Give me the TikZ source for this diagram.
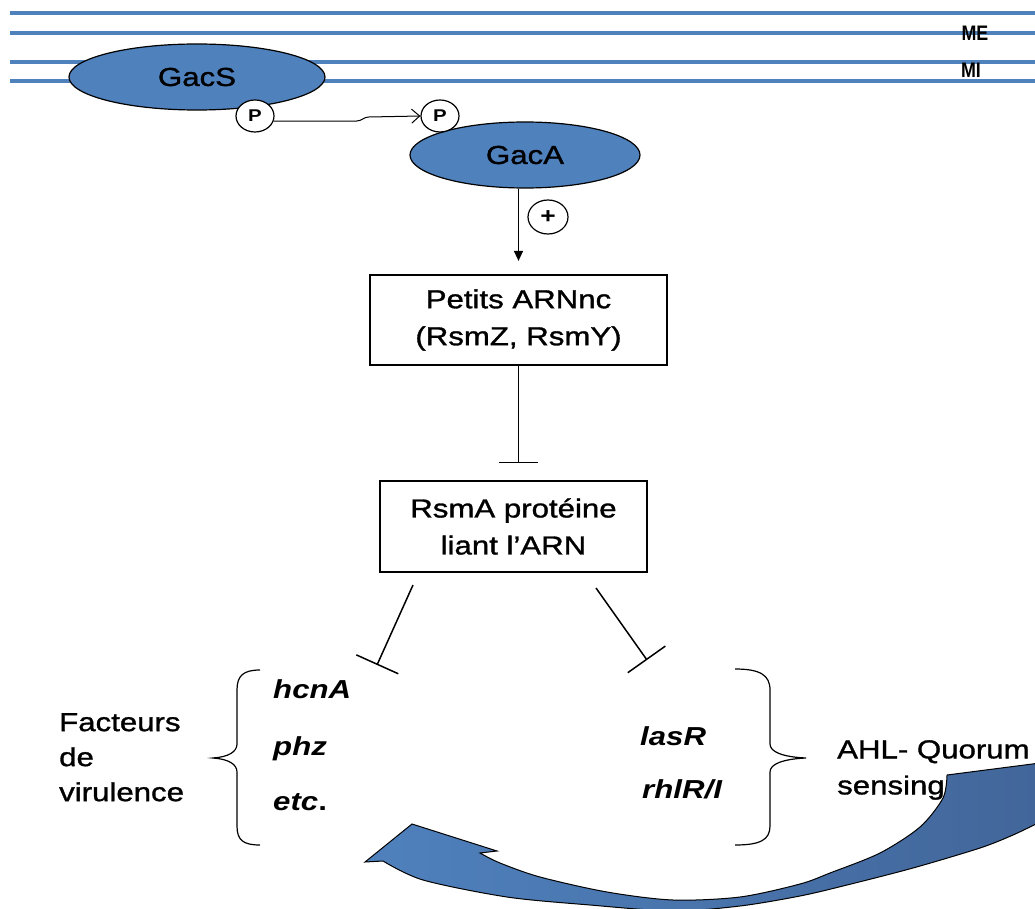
\documentclass[tikz,border=0pt]{standalone}
\usepackage{fontspec}
\setmainfont[FakeStretch=1.2,UprightFeatures={FakeBold=1.2}]{Liberation Sans}
\newfontfamily\condfont[FakeStretch=0.85]{Liberation Sans}
\usepackage{tikz}
\usetikzlibrary{arrows.meta,positioning,calc,shapes.geometric}
\definecolor{memblue}{HTML}{4F81BD}
\definecolor{darkblue}{HTML}{42669A}
\tikzset{prot/.style={ellipse, draw=black, line width=1.2pt, fill=memblue, inner sep=0pt, minimum height=66pt, font=\fontsize{26}{30}\selectfont},
phos/.style={ellipse, draw=black, line width=1.2pt, fill=white, inner sep=0pt, minimum width=38pt, minimum height=32pt, font=\bfseries\fontsize{17}{20}\selectfont},
rnabox/.style={rectangle, draw=black, line width=2.2pt, inner sep=0pt, align=center, font=\fontsize{26}{37}\selectfont},
txt/.style={inner sep=0pt, align=left, anchor=north west, font=\fontsize{26}{30}\selectfont},
gene/.style={inner sep=0pt, anchor=base west, font=\bfseries\itshape\fontsize{26}{30}\selectfont},
inhib/.style={line width=1.5pt, -{Bar[width=46pt]}}}

\begin{document}
\begin{tikzpicture}[x=1pt,y=-1pt]
	\useasboundingbox (0,0) rectangle (1035,909);
	\clip (0,0) rectangle (1035,909);
	\foreach \y in {13,33,62,81}
		\draw[memblue, line width=3.4pt] (10,\y) -- (1040,\y);
	\node[font=\condfont\bfseries\fontsize{21}{21}\selectfont] (me) at (975,33) {ME};
	\node[font=\condfont\bfseries\fontsize{21}{21}\selectfont] (mi) at (971,70) {MI};
	\node[prot, minimum width=256pt] (gacs) at (197,77) {GacS};
	\node[prot, minimum width=230pt] (gaca) at (525,155) {GacA};
	\node[phos] (p1) at (255,116) {P};
	\node[phos] (p2) at (440,116) {P};
	\draw[line width=1pt, -{Straight Barb[length=8pt,width=14pt]}] (p1.-15) -- ++(83,0) to[out=0,in=180] ++(12,-4) -- (p2.west);
	\node[rnabox, minimum width=297pt, minimum height=90pt] (arnnc) at (518.5,320) {Petits ARNnc\\(RsmZ, RsmY)};
	\node[rnabox, minimum width=267pt, minimum height=91pt] (rsma) at (513.5,526.5) {RsmA protéine\\liant l’ARN};
	\node[phos, minimum width=40pt, minimum height=34pt, font=\bfseries\fontsize{22}{22}\selectfont] (plus) at (548,217) {+};
	\draw[line width=1.5pt, -{Triangle[length=10pt,width=9pt]}, shorten >=13pt] (gaca.south -| arnnc.north) -- (arnnc.north);
	\coordinate (tbar) at (518.5,463);
	\draw[line width=1.5pt, -{Bar[width=39pt]}] (arnnc.south) -- (tbar);
	\coordinate (l0) at (413,585);
	\coordinate (l1) at (377,665);
	\coordinate (r0) at (596,588);
	\coordinate (r1) at (647,660);
	\draw[inhib] (l0) -- (l1);
	\draw[inhib] (r0) -- (r1);
	\draw[line width=1.2pt] (260,670) .. controls (243,670) and (237,676) .. (237,690) -- (237,744) .. controls (237,752) and (228,757) .. (213,758) .. controls (228,759) and (237,764) .. (237,772) -- (237,826) .. controls (237,840) and (243,845) .. (260,845);
	\draw[line width=1.2pt] (735,669) .. controls (760,669) and (770,675) .. (770,690) -- (770,744) .. controls (770,752) and (783,757) .. (806,758) .. controls (783,759) and (770,764) .. (770,772) -- (770,826) .. controls (770,840) and (760,845) .. (735,845);
	\node[txt, font=\fontsize{26}{35}\selectfont] (vir) at (59,713) {Facteurs\\de\\virulence};
	\node[gene] (hcna) at (273,698) {hcnA};
	\node[gene] (phz) at (273,755) {phz};
	\node[gene] (etc) at (273,810) {etc\textup{.}};
	\node[gene] (lasr) at (640,745) {lasR};
	\node[gene] (rhlr) at (642,798) {rhlR/I};
	\node[txt, font=\fontsize{26}{36}\selectfont] (ahl) at (837,740) {AHL- Quorum\\sensing};
	\draw[line width=1pt, left color=memblue, right color=darkblue] (1040,763) -- plot[smooth] coordinates {(947,775) (943,798) (920,827) (880,853) (830,873) (800,884) (740,897) (673,900) (607,892) (540,877) (500,863) (480,853)} -- (497,851) -- (412,824) -- (365,862) -- plot[smooth] coordinates {(383,861) (423,880) (507,897) (590,905) (673,911) (740,906) (800,896) (847,885) (913,868) (980,848) (1013,835) (1040,822)} -- cycle;
\end{tikzpicture}
\end{document}
